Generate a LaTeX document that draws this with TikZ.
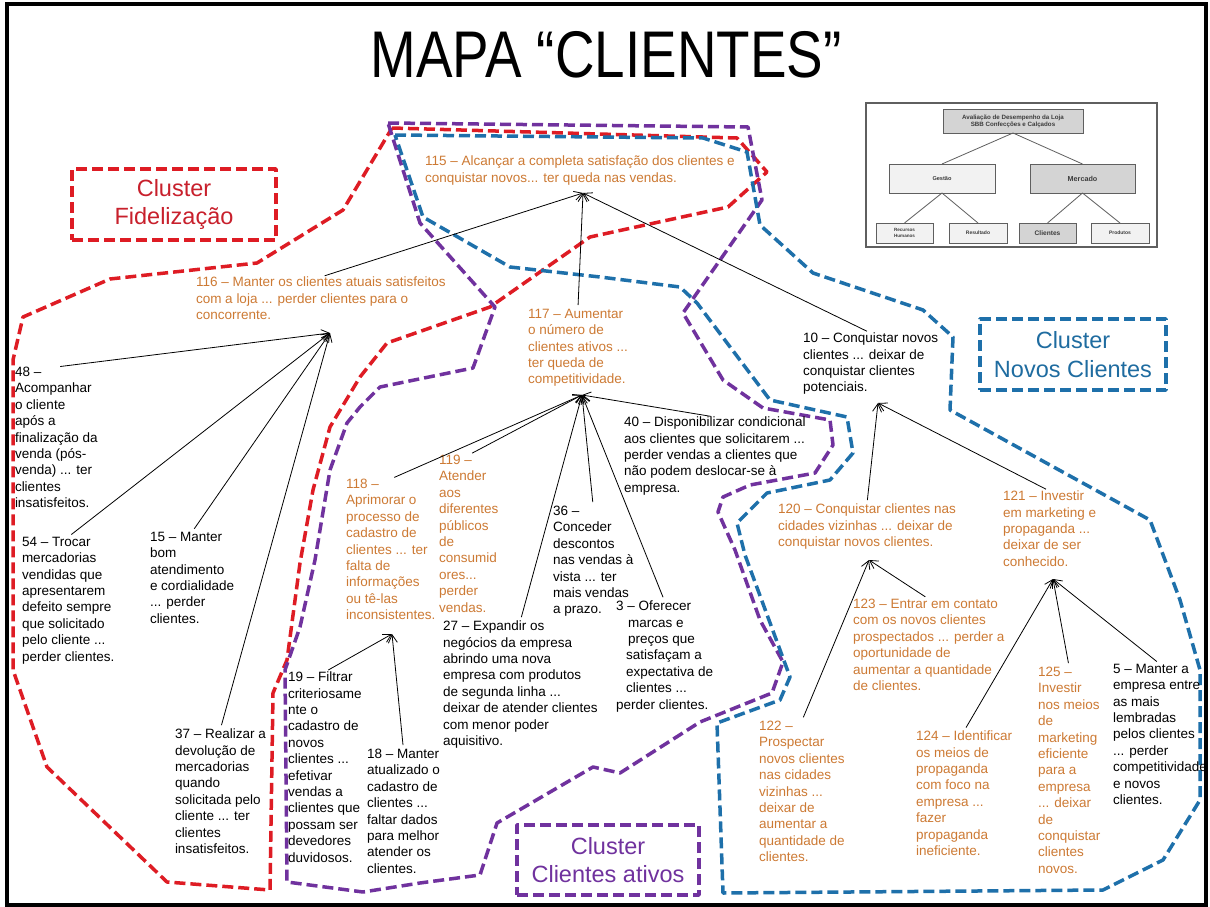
\documentclass[tikz,border=0pt]{standalone}
\usepackage{fontspec}
\setmainfont{Liberation Sans}
\usetikzlibrary{arrows.meta}
\definecolor{corange}{RGB}{205,122,52}
\definecolor{cred}{RGB}{222,28,36}
\definecolor{credtxt}{RGB}{200,32,44}
\definecolor{cpurple}{RGB}{112,50,158}
\definecolor{cblue}{RGB}{30,112,170}
\definecolor{cbluetxt}{RGB}{31,108,160}
\definecolor{insetline}{RGB}{95,95,95}
\definecolor{insetdark}{RGB}{212,212,212}
\definecolor{insetlight}{RGB}{242,242,242}
\definecolor{insettext}{RGB}{60,60,60}

\begin{document}
\begin{tikzpicture}[x=1pt,y=-1pt,
  every node/.style={inner sep=0pt, outer sep=0pt},
  item/.style={anchor=north west, align=left, font=\fontsize{13.5}{16.4}\selectfont, text=black},
  oitem/.style={item, text=corange},
  conn/.style={line width=0.8pt, -{Straight Barb[length=8pt,width=9pt]}, shorten <=4pt},
  bound/.style={line width=3.5pt, dash pattern=on 11pt off 5pt, line join=round},
  clusterbox/.style={bound, draw, align=center, font=\fontsize{23.5}{28.5}\selectfont},
  ibox/.style={draw=insetline, line width=0.8pt, align=center, text=insettext},
  iline/.style={draw=insetline, line width=0.8pt},
]
\useasboundingbox (0,0) rectangle (1210,907);
\fill[white] (0,0) rectangle (1210,907);

% outer frame
\draw[line width=3.5pt] (7,4) rectangle (1206,905);

% title
\node (title) at (606,55) {\fontsize{66}{70}\selectfont\scalebox{0.83}[1]{MAPA “CLIENTES”}};

% cluster outlines
\draw[bound, cred] (392,128) -- (737,138) -- (767,172) -- (728,207) -- (590,237)
  -- (490,307) -- (387,343) -- (360,377) -- (330,427) -- (313,490) -- (300,563)
  -- (287,660) -- (273,693) -- (270,890) -- (167,882) -- (47,767) -- (13,670)
  -- (13,360) -- (23,317) -- (110,279) -- (257,263) -- (343,210) -- cycle;

\draw[bound, cpurple] (388,123) -- (748,127) -- (762,200) -- (683,313) -- (723,380)
  -- (763,408) -- (830,420) -- (833,445) -- (815,473) -- (750,485) -- (723,497)
  -- (718,512) -- (735,550) -- (760,620) -- (783,662) -- (772,693) -- (700,722)
  -- (620,773) -- (593,767) -- (497,823) -- (480,875) -- (420,883) -- (363,892)
  -- (287,882) -- (285,670) -- (300,627) -- (315,560) -- (330,470) -- (347,423)
  -- (360,407) -- (380,387) -- (473,368) -- (495,307) -- (420,223) -- (403,170) -- cycle;

\draw[bound, cblue] (395,135) -- (703,138) -- (747,152) -- (760,225) -- (813,273)
  -- (923,310) -- (953,337) -- (950,410) -- (1150,520) -- (1180,600) -- (1200,670)
  -- (1200,800) -- (1163,860) -- (1103,890) -- (723,893) -- (717,723) -- (780,700)
  -- (790,677) -- (745,555) -- (737,523) -- (767,493) -- (830,480) -- (853,453)
  -- (847,417) -- (770,400) -- (697,303) -- (680,287) -- (600,277) -- (510,267)
  -- (423,217) -- cycle;

% cluster labels
\node[clusterbox, cred, text=credtxt, minimum width=204pt, minimum height=71pt] (cfid) at (174,204.5) {Cluster\\Fidelização};
\node[clusterbox, cblue, text=cbluetxt, minimum width=186pt, minimum height=71pt] (cnov) at (1073,354.5) {Cluster\\Novos Clientes};
\node[clusterbox, cpurple, text=cpurple, minimum width=182pt, minimum height=70pt] (catv) at (608,860) {Cluster\\Clientes ativos};

% inset: value tree
\node[draw=insetline, line width=1.5pt, fill=white, anchor=north west, minimum width=291pt, minimum height=144pt] (inset) at (866,103) {};
\node[ibox, fill=insetdark, minimum width=140pt, minimum height=24pt, font=\fontsize{6.2}{7.2}\selectfont\bfseries] (itop) at (1013,121) {Avaliação de Desempenho da Loja\\SBB Confecções e Calçados};
\node[ibox, fill=insetlight, minimum width=106pt, minimum height=29pt, font=\fontsize{5.6}{6.5}\selectfont\bfseries] (igest) at (942,178.5) {Gestão};
\node[ibox, fill=insetdark, minimum width=105pt, minimum height=29pt, font=\fontsize{7.2}{8}\selectfont\bfseries] (imerc) at (1082.5,178.5) {Mercado};
\node[ibox, fill=insetlight, minimum width=57pt, minimum height=20pt, font=\fontsize{4.6}{5.2}\selectfont\bfseries] (irh) at (904.5,233) {Recursos\\Humanos};
\node[ibox, fill=insetlight, minimum width=58pt, minimum height=20pt, font=\fontsize{5}{6}\selectfont\bfseries] (ires) at (978,233) {Resultado};
\node[ibox, fill=insetdark, minimum width=57pt, minimum height=20pt, font=\fontsize{6.6}{7.5}\selectfont\bfseries] (icli) at (1047.5,233) {Clientes};
\node[ibox, fill=insetlight, minimum width=58pt, minimum height=20pt, font=\fontsize{5}{6}\selectfont\bfseries] (iprod) at (1120,233) {Produtos};
\draw[iline] (itop.south) -- (igest.north);
\draw[iline] (itop.south) -- (imerc.north);
\draw[iline] (igest.south) -- (irh.north);
\draw[iline] (igest.south) -- (ires.north);
\draw[iline] (imerc.south) -- (icli.north);
\draw[iline] (imerc.south) -- (iprod.north);

% concepts
\node[oitem] (n115) at (425,156) {115 – Alcançar a completa satisfação dos clientes e\\conquistar novos... ter queda nas vendas.};
\node[oitem] (n116) at (196,277) {116 – Manter os clientes atuais satisfeitos\\com a loja ... perder clientes para o\\concorrente.};
\node[oitem] (n117) at (528,309) {117 – Aumentar\\o número de\\clientes ativos ...\\ter queda de\\competitividade.};
\node[item] (n10) at (803,333) {10 – Conquistar novos\\clientes ... deixar de\\conquistar clientes\\potenciais.};

\node[item] (n48) at (15,367) {48 –\\Acompanhar\\o cliente\\após a\\finalização da\\venda (pós-\\venda) ... ter\\clientes\\insatisfeitos.};
\node[item] (n54) at (22,537) {54 – Trocar\\mercadorias\\vendidas que\\apresentarem\\defeito sempre\\que solicitado\\pelo cliente ...\\perder clientes.};
\node[item] (n15) at (150,532) {15 – Manter\\bom\\atendimento\\e cordialidade\\... perder\\clientes.};
\node[item] (n37) at (175,729) {37 – Realizar a\\devolução de\\mercadorias\\quando\\solicitada pelo\\cliente ... ter\\clientes\\insatisfeitos.};

\node[oitem] (n118) at (346,479) {118 –\\Aprimorar o\\processo de\\cadastro de\\clientes ... ter\\falta de\\informações\\ou tê-las\\inconsistentes.};
\node[oitem] (n119) at (439,455) {119 –\\Atender\\aos\\diferentes\\públicos\\de\\consumid\\ores...\\perder\\vendas.};
\node[item] (n36) at (553,506) {36 –\\Conceder\\descontos\\nas vendas à\\vista ... ter\\mais vendas\\a prazo.};
\node[item] (n3) at (616,601) {3 – Oferecer\\\hspace*{12pt}marcas e\\\hspace*{12pt}preços que\\\hspace*{10pt}satisfaçam a\\\hspace*{10pt}expectativa de\\\hspace*{10pt}clientes ...\\perder clientes.};
\node[item] (n27) at (443,621) {27 – Expandir os\\negócios da empresa\\abrindo uma nova\\empresa com produtos\\de segunda linha ...\\deixar de atender clientes\\com menor poder\\aquisitivo.};
\node[item] (n40) at (624,417) {40 – Disponibilizar condicional\\aos clientes que solicitarem ...\\perder vendas a clientes que\\não podem deslocar-se à\\empresa.};
\node[item] (n19) at (288,672) {19 – Filtrar\\criteriosame\\nte o\\cadastro de\\novos\\clientes ...\\efetivar\\vendas a\\clientes que\\possam ser\\devedores\\duvidosos.};
\node[item] (n18) at (367,749) {18 – Manter\\atualizado o\\cadastro de\\clientes ...\\faltar dados\\para melhor\\atender os\\clientes.};

\node[oitem] (n120) at (778,504) {120 – Conquistar clientes nas\\cidades vizinhas ... deixar de\\conquistar novos clientes.};
\node[oitem] (n121) at (1003,491) {121 – Investir\\em marketing e\\propaganda ...\\deixar de ser\\conhecido.};
\node[oitem] (n123) at (853,599) {123 – Entrar em contato\\com os novos clientes\\prospectados ... perder a\\oportunidade de\\aumentar a quantidade\\de clientes.};
\node[oitem] (n122) at (759,721) {122 –\\Prospectar\\novos clientes\\nas cidades\\vizinhas ...\\deixar de\\aumentar a\\quantidade de\\clientes.};
\node[oitem] (n124) at (916,731) {124 – Identificar\\os meios de\\propaganda\\com foco na\\empresa ...\\fazer\\propaganda\\ineficiente.};
\node[oitem] (n125) at (1038,667) {125 –\\Investir\\nos meios\\de\\marketing\\eficiente\\para a\\empresa\\... deixar\\de\\conquistar\\clientes\\novos.};
\node[item] (n5) at (1113,664) {5 – Manter a\\empresa entre\\as mais\\lembradas\\pelos clientes\\... perder\\competitividade\\e novos\\clientes.};

% points where the arrows meet
\coordinate (h115) at (583,193);
\coordinate (h116) at (330,333);
\coordinate (h117) at (582,395);
\coordinate (h10) at (878,403);
\coordinate (h118) at (392,634);
\coordinate (h120) at (869,560);
\coordinate (h121) at (1053,579);

% links
\draw[conn] (n116.north) -- (h115);
\draw[conn] (n117.north) -- (h115);
\draw[conn] (n10.north) -- (h115);

\draw[conn] (n48.north) -- (h116);
\draw[conn] (n54.north) -- (h116);
\draw[conn] (n15.north) -- (h116);
\draw[conn] (n37.north) -- (h116);

\draw[conn] (n118.north) -- (h117);
\draw[conn] (n119.north) -- (h117);
\draw[conn] (n36.north) -- (h117);
\draw[conn] (n27.north) -- (h117);
\draw[conn] (n3.north) -- (h117);
\draw[conn] (n40.north) -- (h117);

\draw[conn] (n19.north) -- (h118);
\draw[conn] (n18.north) -- (h118);

\draw[conn] (n120.north) -- (h10);
\draw[conn] (n121.north) -- (h10);

\draw[conn] (n123.north) -- (h120);
\draw[conn] (n122.north) -- (h120);

\draw[conn] (n124.north) -- (h121);
\draw[conn] (n125.north) -- (h121);
\draw[conn] (n5.north) -- (h121);
\end{tikzpicture}
\end{document}
